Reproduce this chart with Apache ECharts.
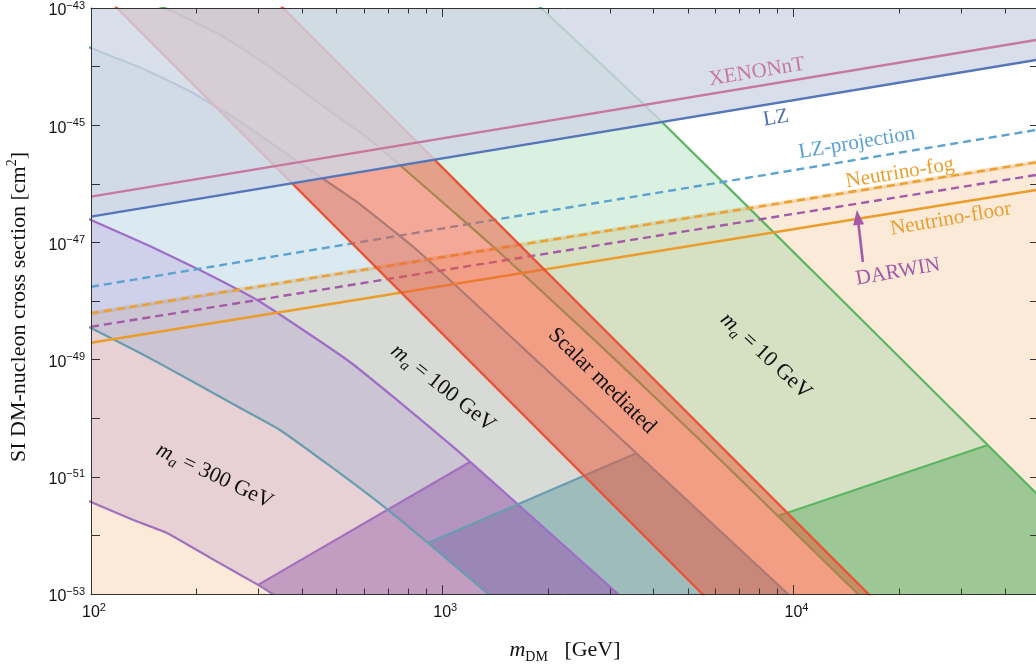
<!DOCTYPE html>
<html>
<head>
<meta charset="utf-8">
<script src="https://cdn.jsdelivr.net/npm/echarts@6/dist/echarts.min.js"></script>
<style>
  html, body { margin: 0; padding: 0; background: #fff; }
  #chart { width: 1036px; height: 667px; }
</style>
</head>
<body>
<div id="chart"></div>
<script>
// Dark-matter mass in GeV, spin-independent cross section in cm^2.

// Experimental limits and projections
const xenonNT       = [[100, 6.03e-47], [50000, 2.9e-44]];
const lz            = [[100, 2.75e-47], [50000, 1.32e-44]];
const lzProjection  = [[100, 1.75e-48], [50000, 8.45e-46]];
const neutrinoFog   = [[100, 6.17e-49], [50000, 2.37e-46]];
const darwin        = [[100, 3.64e-49], [50000, 1.44e-46]];
const neutrinoFloor = [[100, 1.94e-49], [50000, 8.0e-47]];

// Scalar-mediated band
const scalarLower = [[100, 2.78e-43], [7000, 2.36e-54]];
const scalarUpper = [[300, 2.61e-43], [20000, 2.97e-54]];

// Pseudoscalar mediator, m_a = 300 GeV
const ma300Upper = [[93, 2.94e-47], [100, 2.41e-47], [147, 8.69e-48], [204, 3.38e-48], [297, 1.04e-48],
                    [394, 3.46e-49], [546, 9.10e-50], [743, 2.05e-50], [1101, 2.86e-51], [1590, 4.02e-52],
                    [3143, 1.04e-53], [3654, 4.56e-54]];
const ma300Lower = [[93, 4.44e-52], [100, 3.72e-52], [132, 1.83e-52], [164.5, 1.10e-52], [218, 4.18e-53],
                    [299, 1.43e-53], [357, 7.29e-54]];
const ma300Cut   = [[299, 1.43e-53], [1199, 1.79e-51]];

// Pseudoscalar mediator, m_a = 100 GeV
const ma100Upper = [[93, 2.47e-44], [100, 2.07e-44], [139, 9.46e-45], [193, 3.69e-45], [267, 1.13e-45],
                    [371, 2.86e-46], [561, 5.30e-47], [847, 7.41e-48], [1664, 1.77e-49], [3491, 2.86e-51],
                    [9580, 1.04e-53], [11140, 4.39e-54]];
const ma100Lower = [[93, 4.34e-49], [100, 3.46e-49], [138, 1.30e-49], [191, 4.49e-50], [266, 1.49e-50],
                    [345, 6.30e-51], [479, 1.53e-51], [678, 3.18e-52], [911, 7.41e-53], [1340, 1.04e-53],
                    [1558, 4.56e-54]];
const ma100Cut   = [[911, 7.41e-53], [3583, 2.55e-51]];

// Pseudoscalar mediator, m_a = 10 GeV
const ma10Upper = [[1664, 2.19e-43], [1910, 1.00e-43], [2811, 1.15e-44], [4165, 1.23e-45], [13730, 1.04e-48],
                   [48980, 5.30e-52], [103400, 6.0e-54]];
const ma10Lower = [[121, 1.67e-43], [162, 1.00e-43], [239, 3.20e-44], [332, 8.75e-45], [461, 2.05e-45],
                   [639, 4.97e-46], [985, 5.30e-47], [1431, 7.41e-48], [2811, 1.77e-49], [5415, 4.25e-51],
                   [9030, 2.14e-52], [15150, 1.04e-53], [17040, 5.13e-54]];
const ma10Cut   = [[9030, 2.14e-52], [35760, 3.49e-51]];

// Axis ticks
const xRange = [100, 50000];
const yRange = [1e-53, 1e-43];
const xMajorTicks = [100, 1000, 10000];
const xMinorTicks = [200, 300, 400, 500, 600, 700, 800, 900,
                     2000, 3000, 4000, 5000, 6000, 7000, 8000, 9000,
                     20000, 30000, 40000];
const yTickExponents  = [-53, -52, -51, -50, -49, -48, -47, -46, -45, -44, -43];
const yLabelExponents = [-53, -51, -49, -47, -45, -43];
const xLabelExponents = [2, 3, 4];

// Text annotations
const lineLabels = [
  { text: 'XENONnT',        pos: [7870, 8.1e-45],   angle: 9.4, color: '#c8789e' },
  { text: 'LZ',             pos: [8910, 1.33e-45],  angle: 9.4, color: '#4e70b0' },
  { text: 'LZ-projection',  pos: [15150, 4.97e-46], angle: 9.4, color: '#5aa0d0' },
  { text: 'Neutrino-fog',   pos: [20090, 1.53e-46], angle: 9.4, color: '#e9a030' },
  { text: 'Neutrino-floor', pos: [28050, 2.51e-47], angle: 9.8, color: '#e9a030' },
  { text: 'DARWIN',         pos: [19830, 3.13e-48], angle: 10,  color: '#a45aa8' }
];
const bandLabels = [
  { text: '{i|m}{s|a}{n| = 300 GeV}', pos: [225, 1.03e-51],  angle: -25.5 },
  { text: '{i|m}{s|a}{n| = 100 GeV}', pos: [1005, 3.27e-50], angle: -38.5 },
  { text: '{n|Scalar mediated}',      pos: [2849, 4.32e-50], angle: -44.5 },
  { text: '{i|m}{s|a}{n| = 10 GeV}',  pos: [8344, 1.15e-49], angle: -43 }
];
const darwinArrow = [[15760, 4.63e-48], [15150, 3.57e-47]];

// ---------------------------------------------------------------
const SERIF = "'Liberation Serif', 'DejaVu Serif', serif";
const SANS = "'Liberation Sans', Arial, sans-serif";
const lg = Math.log10;
const toLog = p => [lg(p[0]), lg(p[1])];

const mathRich = {
  i: { fontFamily: SERIF, fontStyle: 'italic', fontSize: 22, lineHeight: 28, color: '#111' },
  s: { fontFamily: SERIF, fontStyle: 'italic', fontSize: 15, verticalAlign: 'bottom', color: '#111' },
  n: { fontFamily: SERIF, fontSize: 22, lineHeight: 28, color: '#111' }
};

function clipTo(params) {
  const c = params.coordSys;
  return { type: 'rect', shape: { x: c.x, y: c.y, width: c.width, height: c.height } };
}

// filled region from a closed outline of [mass, sigma] points
function region(points, color, z) {
  return {
    type: 'custom', silent: true, z, data: [[3, -48]],
    renderItem: (params, api) => ({
      type: 'polygon',
      shape: { points: points.map(p => api.coord(toLog(p))) },
      style: { fill: color },
      clipPath: clipTo(params)
    })
  };
}

// band between an upper and a lower curve
const band = (upper, lower) => upper.concat(lower.slice().reverse());
// part of a band below a cut line running from the lower curve to the upper curve
function belowCut(upper, lower, cut) {
  const m0 = cut[0][0], m1 = cut[cut.length - 1][0];
  return cut.concat(upper.filter(p => p[0] > m1), lower.filter(p => p[0] > m0).reverse());
}

function curve(points, color, width, z, dashed) {
  return {
    type: 'line', silent: true, z, data: points.map(toLog), showSymbol: false, symbol: 'none',
    smooth: points.length > 2 ? 0.15 : false,
    lineStyle: { color, width, type: dashed ? [8, 5] : 'solid', cap: 'butt', join: 'round' }
  };
}

function limitArea(points, color, fillColor, origin, width, z) {
  return {
    type: 'line', silent: true, z, data: points.map(toLog), showSymbol: false, symbol: 'none',
    lineStyle: { color, width },
    areaStyle: { color: fillColor, origin, opacity: 1 }
  };
}

function textSeries(items, base) {
  return {
    type: 'custom', silent: true, z: 30,
    data: items.map(() => [3, -48]),
    renderItem: (params, api) => {
      const it = items[params.dataIndex];
      const pt = api.coord(toLog(it.pos));
      return {
        type: 'text', x: pt[0], y: pt[1], rotation: it.angle * Math.PI / 180,
        style: Object.assign({
          text: it.text, fill: it.color || '#111',
          align: 'center', verticalAlign: 'middle',
          textAlign: 'center', textVerticalAlign: 'middle'
        }, base)
      };
    }
  };
}

const arrowSeries = {
  type: 'custom', silent: true, z: 30, data: [[3, -48]],
  renderItem: (params, api) => {
    const a = api.coord(toLog(darwinArrow[0]));
    const b = api.coord(toLog(darwinArrow[1]));
    const dx = b[0] - a[0], dy = b[1] - a[1];
    const len = Math.hypot(dx, dy), ux = dx / len, uy = dy / len;
    const hl = 15, hw = 5.5;
    const bx = b[0] - ux * hl, by = b[1] - uy * hl;
    return {
      type: 'group',
      children: [
        { type: 'line', shape: { x1: a[0], y1: a[1], x2: bx + ux * 2, y2: by + uy * 2 },
          style: { stroke: '#a45aa8', lineWidth: 2.6 } },
        { type: 'polygon',
          shape: { points: [[b[0], b[1]], [bx - uy * hw, by + ux * hw], [bx + uy * hw, by - ux * hw]] },
          style: { fill: '#a45aa8' } }
      ]
    };
  }
};

const AXIS = '#333';
const xMin = lg(xRange[0]), xMax = lg(xRange[1]);
const yMin = lg(yRange[0]), yMax = lg(yRange[1]);

function xAxisDef(position, ticks, len, showLine, labels) {
  return {
    type: 'value', position, min: xMin, max: xMax, gridIndex: 0, z: 40,
    axisLine: { show: showLine, onZero: false, lineStyle: { color: AXIS, width: 1 } },
    splitLine: { show: false },
    axisTick: { show: true, inside: true, length: len, customValues: ticks.map(lg), lineStyle: { color: AXIS } },
    axisLabel: labels ? {
      customValues: xLabelExponents, margin: 8, padding: [0, 0, 0, 6],
      formatter: v => '{b|10}{s|' + Math.round(v) + '}',
      rich: {
        b: { fontFamily: SANS, fontSize: 16, lineHeight: 22, color: '#111' },
        s: { fontFamily: SANS, fontSize: 11, verticalAlign: 'top', color: '#111' }
      }
    } : { show: false }
  };
}
function yAxisDef(position, labels) {
  return {
    type: 'value', position, min: yMin, max: yMax, gridIndex: 0, z: 40,
    axisLine: { show: true, onZero: false, lineStyle: { color: AXIS, width: 1 } },
    splitLine: { show: false },
    axisTick: { show: true, inside: true, length: 9, customValues: yTickExponents, lineStyle: { color: AXIS } },
    axisLabel: labels ? {
      customValues: yLabelExponents, margin: 6, padding: [6, 0, 0, 0],
      formatter: v => '{b|10}{s|\u2212' + Math.abs(Math.round(v)) + '}',
      rich: {
        b: { fontFamily: SANS, fontSize: 16, lineHeight: 22, color: '#111' },
        s: { fontFamily: SANS, fontSize: 11, verticalAlign: 'top', color: '#111' }
      }
    } : { show: false }
  };
}

const xBottom = xAxisDef('bottom', xMajorTicks, 9, true, true);
xBottom.name = '{i|m}{d|DM}{n|   [GeV]}';
xBottom.nameLocation = 'middle';
xBottom.nameGap = 42;
xBottom.nameTextStyle = {
  rich: {
    i: { fontFamily: SERIF, fontStyle: 'italic', fontSize: 22, lineHeight: 28, color: '#111' },
    d: { fontFamily: SERIF, fontSize: 14, verticalAlign: 'bottom', color: '#111' },
    n: { fontFamily: SERIF, fontSize: 22, lineHeight: 28, color: '#111' }
  }
};
const yLeft = yAxisDef('left', true);
yLeft.name = '{n|SI DM-nucleon cross section [cm}{s|2}{n|]}';
yLeft.nameLocation = 'middle';
yLeft.nameRotate = 90;
yLeft.nameGap = 58;
yLeft.nameTextStyle = {
  padding: [0, 12, 0, 0],
  rich: {
    n: { fontFamily: SERIF, fontSize: 22, lineHeight: 28, color: '#111' },
    s: { fontFamily: SERIF, fontSize: 14, verticalAlign: 'top', color: '#111' }
  }
};

const RED = '#e9553b', PURPLE = '#a06cc8', PURPLE2 = '#a271bd', TEAL = '#6a9cb0', GREEN = '#5cb562';

const series = [
  // neutrino fog region
  limitArea(neutrinoFog, 'rgba(236,165,70,0.35)', 'rgba(230,150,55,0.2)', 'start', 4, 1),

  // pseudoscalar bands
  region(band(ma100Upper, ma100Lower), 'rgba(135,182,208,0.3)', 2),
  region(belowCut(ma100Upper, ma100Lower, ma100Cut), 'rgba(90,150,160,0.45)', 2),
  region(band(ma300Upper, ma300Lower), 'rgba(150,100,200,0.18)', 2),
  region(belowCut(ma300Upper, ma300Lower, ma300Cut), 'rgba(150,90,170,0.45)', 2),
  region(band(ma10Upper, ma10Lower), 'rgba(132,205,152,0.3)', 2),
  region(belowCut(ma10Upper, ma10Lower, ma10Cut), 'rgba(90,170,95,0.46)', 2),

  curve(ma300Upper, PURPLE, 2.2, 3), curve(ma300Lower, PURPLE2, 2.2, 3), curve(ma300Cut, PURPLE2, 2.2, 3),
  curve(ma100Upper, TEAL, 2.2, 3), curve(ma100Lower, TEAL, 2.2, 3), curve(ma100Cut, TEAL, 2.2, 3),
  curve(ma10Upper, GREEN, 2.2, 3), curve(ma10Lower, GREEN, 2.2, 3), curve(ma10Cut, GREEN, 2.2, 3),

  // projections and floors
  curve(lzProjection, '#5ba3d0', 2.4, 4, true),
  curve(neutrinoFog, '#eca030', 2.4, 4, true),
  curve(darwin, '#a45aa8', 2.4, 4, true),
  curve(neutrinoFloor, '#eb9c2a', 2.4, 4),

  // scalar mediated band
  region(band(scalarLower, scalarUpper), 'rgba(235,90,60,0.53)', 5),
  curve(scalarLower, RED, 2.4, 6), curve(scalarUpper, RED, 2.4, 6),

  // current exclusion
  limitArea(lz, 'rgba(0,0,0,0)', 'rgba(206,214,229,0.8)', 'end', 0, 7),
  curve(xenonNT, '#c8789e', 2.4, 8),
  curve(lz, '#5577b8', 2.4, 8),

  textSeries(lineLabels, { fontFamily: SERIF, fontSize: 21 }),
  textSeries(bandLabels, { fontFamily: SERIF, fontSize: 22, rich: mathRich }),
  arrowSeries
];

const chart = echarts.init(document.getElementById('chart'), null, { renderer: 'canvas' });
chart.setOption({
  animation: false,
  backgroundColor: '#fff',
  grid: { left: 91, top: 8, width: 948, height: 586, containLabel: false, outerBoundsMode: 'none' },
  xAxis: [
    xBottom,
    xAxisDef('bottom', xMinorTicks, 5.5, false, false),
    xAxisDef('top', xMajorTicks, 9, true, false),
    xAxisDef('top', xMinorTicks, 5.5, false, false)
  ],
  yAxis: [yLeft, yAxisDef('right', false)],
  series
});
</script>
</body>
</html>
